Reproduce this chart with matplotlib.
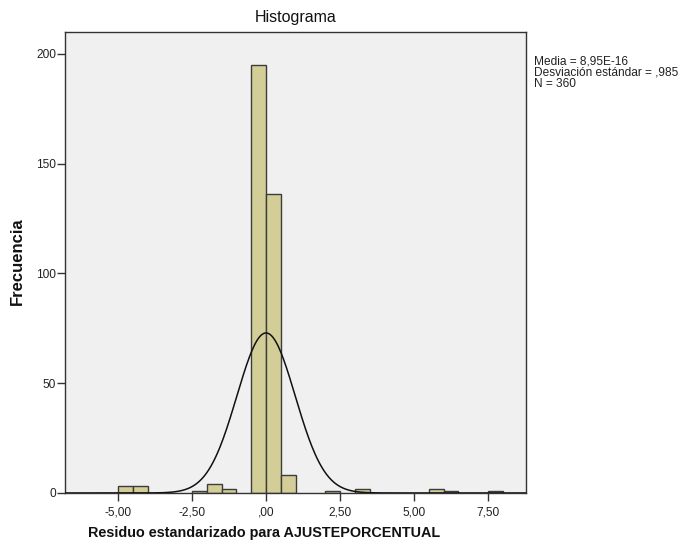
import numpy as np
import matplotlib.pyplot as plt
from matplotlib.ticker import FuncFormatter

plt.rcParams['font.family'] = ['Liberation Sans', 'DejaVu Sans']

# Bin left edges and frequencies (bin width 0,5)
bin_left = [-5.0, -4.5, -2.5, -2.0, -1.5, -0.5, 0.0, 0.5, 2.0, 3.0, 5.5, 6.0, 7.5]
freq = [3, 3, 1, 4, 2, 195, 136, 8, 1, 2, 2, 1, 1]
bin_width = 0.5

media = 8.95e-16
desv = 0.985
n = 360

fig = plt.figure(figsize=(6.83, 5.48), dpi=100)
ax = fig.add_axes([0.0952, 0.1004, 0.6745, 0.8421])
ax.set_facecolor('#f0f0f0')

ax.bar(bin_left, freq, width=bin_width, align='edge', color='#d3ce97',
       edgecolor='#3c3c3c', linewidth=1.0, zorder=2)

# Normal curve from the reported mean, deviation and N
xs = np.linspace(-6.79, 8.77, 600)
ys = n * bin_width / (desv * np.sqrt(2 * np.pi)) * np.exp(-0.5 * ((xs - media) / desv) ** 2)
ax.plot(xs, ys, color='#111111', linewidth=1.1, zorder=3)

ax.set_xlim(-6.79, 8.77)
ax.set_ylim(0, 210.2)
ax.set_xticks([-5.0, -2.5, 0.0, 2.5, 5.0, 7.5])
ax.set_yticks([0, 50, 100, 150, 200])


def fmt_x(v, pos):
    s = f"{v:.2f}".replace('.', ',')
    if s.startswith('0,'):
        s = s[1:]
    if s.startswith('-0,'):
        s = '-' + s[2:]
    return s


ax.xaxis.set_major_formatter(FuncFormatter(fmt_x))
ax.tick_params(axis='both', direction='out', length=5.5, width=1.0,
               color='#333333', labelsize=8.6, labelcolor='#222222')
ax.tick_params(axis='y', pad=1)
ax.tick_params(axis='x', pad=4)
for sp in ax.spines.values():
    sp.set_color('#333333')
    sp.set_linewidth(1.0)

ax.set_title('Histograma', fontsize=11.5, pad=7, color='#111111')
ax.set_xlabel('Residuo estandarizado para AJUSTEPORCENTUAL', fontsize=10.4,
              fontweight='bold', color='#111111')
ax.xaxis.set_label_coords(0.432, -0.072)
ax.set_ylabel('Frecuencia', fontsize=12, fontweight='bold', color='#111111')
ax.yaxis.set_label_coords(-0.087, 0.503)

fig.text(534 / 683, 1 - 55 / 548,
         'Media = 8,95E-16\nDesviación estándar = ,985\nN = 360',
         fontsize=8.6, va='top', ha='left', color='#222222', linespacing=0.95)

fig.savefig('out.png', dpi=100)
